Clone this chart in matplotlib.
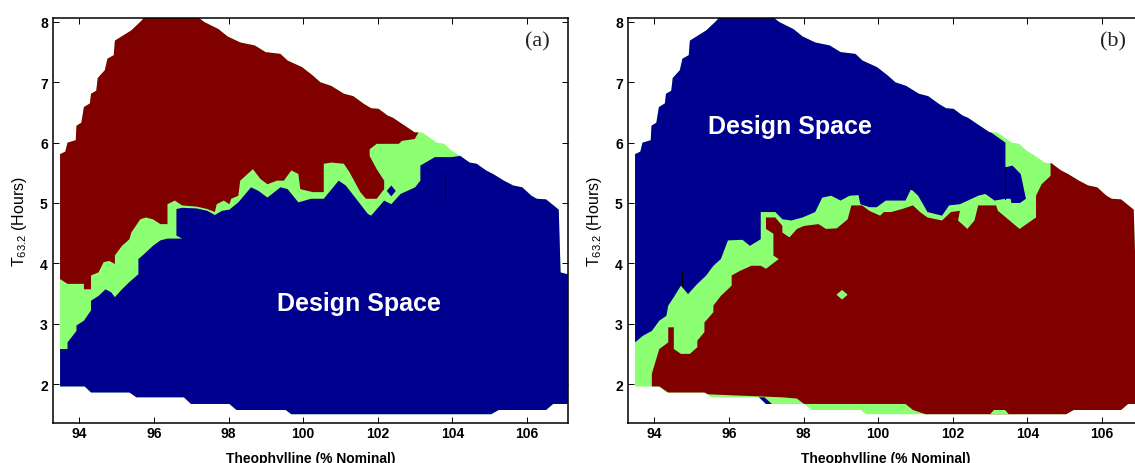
import matplotlib
matplotlib.use("Agg")
import matplotlib.pyplot as plt
import numpy as np

# ---------------- data (Theophylline % nominal vs T63.2 hours) ----------------
# outer boundary of the explored region (shared by both panels)
top_x = [93.48, 93.62, 93.68, 93.90, 93.92, 94.05, 94.12, 94.28, 94.31, 94.45,
         94.49, 94.68, 94.75, 94.92, 94.95, 95.39, 95.63, 95.78, 97.14, 97.34,
         97.73, 97.97, 98.31, 98.70, 98.99, 99.39, 99.58, 99.97, 100.26, 100.46,
         100.75, 101.09, 101.34, 101.63, 101.82, 102.02, 102.26, 102.41, 102.65, 102.99,
         103.19, 103.58, 103.78, 103.97, 104.21, 104.46, 104.65, 104.90, 105.09, 105.38,
         105.63, 105.87, 106.12, 106.26, 106.51, 106.85, 106.90, 107.20]
top_y = [5.81, 5.85, 6.00, 6.04, 6.28, 6.33, 6.59, 6.65, 6.81, 6.86,
         7.07, 7.20, 7.39, 7.45, 7.69, 7.86, 8.00, 8.10, 8.10, 8.00,
         7.88, 7.76, 7.66, 7.61, 7.50, 7.47, 7.36, 7.25, 7.11, 7.00,
         6.94, 6.81, 6.77, 6.64, 6.57, 6.56, 6.45, 6.41, 6.31, 6.17,
         6.17, 6.00, 5.98, 5.87, 5.78, 5.67, 5.65, 5.54, 5.48, 5.37,
         5.29, 5.26, 5.12, 5.07, 5.06, 4.89, 3.85, 3.80]
bot_x = [107.20, 106.70, 106.51, 105.24, 105.04, 99.68, 99.53, 98.21, 98.02, 96.99,
         96.80, 95.53, 95.34, 94.31, 94.14, 93.48]
bot_y = [1.67, 1.67, 1.57, 1.57, 1.50, 1.50, 1.57, 1.57, 1.67, 1.67,
         1.78, 1.78, 1.86, 1.86, 1.96, 1.96]

# panel (a): lower edge of the red (failure) region, left -> right
red_a_x = [93.48, 93.68, 94.12, 94.12, 94.31, 94.31, 94.51, 94.65, 94.80, 94.95,
           94.95, 95.14, 95.34, 95.39, 95.63, 95.78, 95.97, 96.17, 96.36, 96.36,
           96.56, 96.75, 97.14, 97.43, 97.63, 97.68, 97.87, 98.02, 98.07, 98.26,
           98.31, 98.65, 98.85, 99.04, 99.29, 99.48, 99.68, 99.87, 99.92, 100.26,
           100.55, 100.55, 100.75, 101.09, 101.24, 101.53, 101.68, 101.97, 102.17, 102.17,
           101.97, 101.78, 101.78, 101.97, 102.56, 102.65, 102.99, 103.09]
red_a_y = [3.74, 3.66, 3.66, 3.57, 3.57, 3.80, 3.85, 4.02, 4.04, 3.99,
           4.13, 4.29, 4.40, 4.51, 4.73, 4.76, 4.73, 4.65, 4.65, 4.98,
           5.04, 4.96, 4.94, 4.90, 4.85, 4.98, 5.04, 4.98, 5.07, 5.12,
           5.37, 5.56, 5.40, 5.31, 5.37, 5.37, 5.54, 5.48, 5.23, 5.18,
           5.18, 5.65, 5.67, 5.65, 5.51, 5.18, 5.07, 5.07, 5.23, 5.37,
           5.56, 5.78, 5.89, 5.98, 5.98, 6.03, 6.06, 6.17]
# panel (a): upper edge of the blue (design space) region, left -> right
blue_a_x = [93.48, 93.68, 93.68, 93.92, 93.92, 94.12, 94.31, 94.31, 94.51, 94.70,
            94.85, 94.95, 95.14, 95.34, 95.58, 95.58, 95.78, 95.97, 96.17, 96.36,
            96.75, 96.60, 96.60, 96.75, 97.14, 97.43, 97.63, 97.82, 98.02, 98.26,
            98.60, 98.80, 99.04, 99.39, 99.58, 99.87, 100.21, 100.55, 100.95, 101.14,
            101.53, 101.73, 101.82, 102.17, 102.36, 102.61, 103.00, 103.14, 103.14, 103.53,
            103.97]
blue_a_y = [2.58, 2.58, 2.69, 2.88, 2.97, 3.05, 3.22, 3.38, 3.46, 3.57,
            3.52, 3.44, 3.57, 3.69, 3.82, 4.07, 4.18, 4.29, 4.38, 4.41,
            4.41, 4.46, 4.90, 4.92, 4.91, 4.87, 4.80, 4.87, 4.89, 5.01,
            5.26, 5.20, 5.09, 5.26, 5.23, 5.01, 5.07, 5.07, 5.37, 5.29,
            4.98, 4.82, 4.79, 5.04, 4.98, 5.15, 5.26, 5.37, 5.62, 5.76,
            5.76]
island_a_x = [102.24, 102.36, 102.48, 102.36]
island_a_y = [5.20, 5.29, 5.20, 5.11]

# panel (b): lower edge of the blue (design space) region, right -> left
blue_b_x = [103.02, 103.41, 103.41, 103.60, 103.82, 103.96, 103.80, 103.57, 103.55, 103.41,
            103.12, 102.87, 102.68, 102.19, 101.90, 101.71, 101.32, 101.07, 100.88, 100.73,
            100.20, 99.96, 99.77, 99.52, 99.47, 99.23, 98.99, 98.74, 98.50, 98.31,
            97.97, 97.67, 97.43, 97.24, 96.85, 96.85, 96.56, 96.36, 95.97, 95.78,
            95.58, 95.39, 95.15, 94.90, 94.71, 94.52, 94.37, 94.32, 94.13, 93.93,
            93.69, 93.48]
blue_b_y = [6.17, 6.00, 5.59, 5.62, 5.48, 5.07, 5.00, 5.00, 5.07, 5.07,
            5.04, 5.15, 5.12, 4.98, 4.96, 4.79, 4.85, 5.12, 5.23, 5.04,
            5.04, 4.93, 4.93, 4.98, 5.13, 5.12, 5.04, 5.12, 5.09, 4.85,
            4.76, 4.71, 4.73, 4.85, 4.85, 4.40, 4.29, 4.39, 4.38, 4.07,
            3.96, 3.80, 3.66, 3.49, 3.63, 3.44, 3.30, 3.13, 3.05, 2.88,
            2.80, 2.69]
# panel (b): upper edge of the red (failure) region, left -> right
red_b_ux = [93.93, 93.93, 94.13, 94.37, 94.37, 94.52, 94.52, 94.71, 94.95, 95.15,
            95.15, 95.34, 95.34, 95.58, 95.58, 95.78, 96.07, 96.07, 96.31, 96.60,
            96.85, 96.99, 97.33, 97.19, 97.19, 96.99, 96.99, 97.24, 97.43, 97.43,
            97.62, 97.82, 98.01, 98.40, 98.60, 98.89, 99.18, 99.28, 99.57, 99.76,
            100.05, 100.15, 100.35, 100.64, 100.93, 101.12, 101.32, 101.71, 101.95, 102.19,
            102.14, 102.39, 102.58, 102.68, 103.16, 103.21, 103.79, 104.23, 104.23, 104.38,
            104.62, 104.62]
red_b_uy = [1.96, 2.17, 2.58, 2.69, 2.94, 2.94, 2.58, 2.50, 2.50, 2.61,
            2.72, 2.86, 3.02, 3.19, 3.30, 3.46, 3.63, 3.80, 3.88, 3.96,
            3.96, 3.91, 4.07, 4.13, 4.49, 4.57, 4.76, 4.76, 4.62, 4.51,
            4.43, 4.57, 4.62, 4.65, 4.57, 4.58, 4.73, 4.96, 4.96, 4.87,
            4.79, 4.85, 4.85, 4.90, 4.96, 4.85, 4.76, 4.71, 4.85, 4.87,
            4.71, 4.57, 4.71, 4.96, 4.96, 4.87, 4.57, 4.76, 5.12, 5.31,
            5.45, 5.67]
# panel (b): lower edge of the red region, right -> left
red_b_bx = [101.27, 100.93, 100.73, 98.01, 97.82, 97.43, 95.44, 95.34, 94.37, 94.13]
red_b_by = [1.50, 1.57, 1.67, 1.67, 1.76, 1.78, 1.83, 1.86, 1.86, 1.96]
island_b_x = [98.88, 99.03, 99.18, 99.03]
island_b_y = [3.48, 3.56, 3.48, 3.40]
bump_b_x = [103.00, 103.10, 103.40, 103.50]
bump_b_y = [1.50, 1.57, 1.57, 1.50]
sliver_b_x = [96.80, 96.95, 97.15, 96.99]
sliver_b_y = [1.78, 1.78, 1.67, 1.67]

x_ticks = [94, 96, 98, 100, 102, 104, 106]
y_ticks = [2, 3, 4, 5, 6, 7, 8]
x_label = "Theophylline (% Nominal)"
y_label = r"T$_{63.2}$ (Hours)"
panel_tags = ["(a)", "(b)"]
ds_text = "Design Space"
ds_pos_a = (101.48, 3.35)
ds_pos_b = (97.62, 6.28)

# ---------------- styling ----------------
RED = "#800000"
BLUE = "#00008F"
GREEN = "#8CFF73"
plt.rcParams["font.family"] = ["Liberation Sans", "DejaVu Sans"]
plt.rcParams["mathtext.default"] = "regular"

top = np.column_stack([top_x, top_y])
bot = np.column_stack([bot_x, bot_y])
outline = np.vstack([top, bot])

fig = plt.figure(figsize=(11.35, 4.64), dpi=100)
ax_a = fig.add_axes([0.0470, 0.0856, 0.4535, 0.8728])
ax_b = fig.add_axes([0.5536, 0.0856, 0.4535, 0.8728])


def style(ax, tag):
    ax.set_xlim(93.3, 107.1)
    ax.set_ylim(1.35, 8.06)
    ax.set_xticks(x_ticks)
    ax.set_yticks(y_ticks)
    ax.tick_params(direction="in", length=4, width=0.7, top=True, right=True,
                   labelsize=10)
    ax.tick_params(axis="x", pad=2)
    ax.tick_params(axis="y", pad=4)
    for lab in ax.get_xticklabels() + ax.get_yticklabels():
        lab.set_fontweight("bold")
    for s in ax.spines.values():
        s.set_linewidth(1.1)
        s.set_zorder(10)
    ax.set_xlabel(x_label, fontsize=10, fontweight="bold", labelpad=8)
    ax.set_ylabel(y_label, fontsize=11.5, labelpad=8)
    ax.text(0.941, 0.945, tag, transform=ax.transAxes, ha="center", va="center",
            fontsize=16, family=["Liberation Serif", "DejaVu Serif"], color="#222222")


# panel (a)
ax_a.fill(outline[:, 0], outline[:, 1], color=GREEN, lw=0, zorder=1)
red_a = np.vstack([top[top[:, 0] <= 103.0],
                   np.column_stack([red_a_x, red_a_y])[::-1]])
ax_a.fill(red_a[:, 0], red_a[:, 1], color=RED, lw=0, zorder=2)
blue_a = np.vstack([np.column_stack([blue_a_x, blue_a_y]),
                    top[top[:, 0] > 103.97], bot])
ax_a.fill(blue_a[:, 0], blue_a[:, 1], color=BLUE, lw=0, zorder=2)
ax_a.fill(island_a_x, island_a_y, color=BLUE, lw=0, zorder=3)
ax_a.plot([103.8, 103.8], [5.07, 5.48], color="black", lw=0.8, zorder=4)
ax_a.text(ds_pos_a[0], ds_pos_a[1], ds_text, color="white", fontsize=18,
          fontweight="bold", ha="center", va="center", zorder=5)
style(ax_a, panel_tags[0])

# panel (b)
ax_b.fill(outline[:, 0], outline[:, 1], color=GREEN, lw=0, zorder=1)
blue_b = np.vstack([top[top[:, 0] <= 103.0],
                    np.column_stack([blue_b_x, blue_b_y])])
ax_b.fill(blue_b[:, 0], blue_b[:, 1], color=BLUE, lw=0, zorder=2)
red_b = np.vstack([np.column_stack([red_b_ux, red_b_uy]),
                   top[top[:, 0] > 104.7],
                   bot[bot[:, 0] > 101.3],
                   np.column_stack([red_b_bx, red_b_by])])
ax_b.fill(red_b[:, 0], red_b[:, 1], color=RED, lw=0, zorder=2)
ax_b.fill(island_b_x, island_b_y, color=GREEN, lw=0, zorder=3)
ax_b.fill(bump_b_x, bump_b_y, color=GREEN, lw=0, zorder=3)
ax_b.fill(sliver_b_x, sliver_b_y, color=BLUE, lw=0, zorder=3)
ax_b.plot([94.73, 94.73], [3.63, 3.88], color="black", lw=0.8, zorder=4)
ax_b.plot([100.88, 100.88], [5.23, 5.37], color="black", lw=0.8, zorder=4)
ax_b.plot([103.41, 103.41], [5.07, 5.59], color="black", lw=0.8, zorder=4)
ax_b.text(ds_pos_b[0], ds_pos_b[1], ds_text, color="white", fontsize=18,
          fontweight="bold", ha="center", va="center", zorder=5)
style(ax_b, panel_tags[1])

fig.savefig("out.png", dpi=100)
